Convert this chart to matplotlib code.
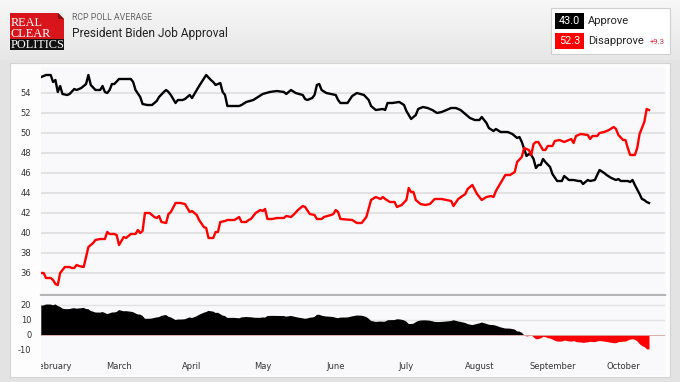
import matplotlib
matplotlib.use('Agg')
import matplotlib.pyplot as plt
import matplotlib.dates as mdates
from matplotlib.patches import Rectangle, Polygon
import numpy as np
import pandas as pd

# RCP average, 2021
approve_dates = ['01-27', '01-29', '01-31', '02-01', '02-02', '02-03', '02-04', '02-05', '02-07', '02-08',
                 '02-10', '02-11', '02-13', '02-15', '02-16', '02-17', '02-19', '02-21', '02-22', '02-23',
                 '02-24', '02-25', '02-26', '02-27', '03-01', '03-06', '03-07', '03-08', '03-10', '03-11',
                 '03-13', '03-15', '03-17', '03-18', '03-20', '03-21', '03-22', '03-23', '03-24', '03-25',
                 '03-26', '03-28', '03-29', '03-31', '04-01', '04-02', '04-04', '04-07', '04-09', '04-10',
                 '04-11', '04-13', '04-14', '04-15', '04-16', '04-19', '04-21', '04-22', '04-24', '04-27',
                 '04-29', '05-01', '05-04', '05-07', '05-10', '05-11', '05-13', '05-15', '05-18', '05-19',
                 '05-20', '05-22', '05-23', '05-24', '05-25', '05-26', '05-28', '05-30', '06-01', '06-02',
                 '06-03', '06-06', '06-08', '06-10', '06-13', '06-15', '06-16', '06-18', '06-21', '06-22',
                 '06-23', '06-25', '06-28', '06-30', '07-01', '07-03', '07-05', '07-06', '07-08', '07-10',
                 '07-12', '07-14', '07-16', '07-18', '07-20', '07-22', '07-24', '07-26', '07-28', '07-30',
                 '08-01', '08-02', '08-04', '08-05', '08-07', '08-08', '08-10', '08-13', '08-15', '08-17',
                 '08-18', '08-19', '08-20', '08-21', '08-22', '08-23', '08-24', '08-25', '08-26', '08-27',
                 '08-28', '08-29', '08-31', '09-01', '09-03', '09-05', '09-06', '09-08', '09-10', '09-12',
                 '09-13', '09-14', '09-16', '09-17', '09-19', '09-20', '09-21', '09-23', '09-24', '09-26',
                 '09-28', '09-29', '09-30', '10-03', '10-04', '10-05', '10-06', '10-08', '10-09', '10-10',
                 '10-11', '10-12']
approve = [55.6, 55.8, 55.8, 55.1, 55.3, 54.1, 54.7, 53.9, 53.8, 53.9,
           54.4, 54.3, 54.5, 54.9, 55.8, 54.8, 54.3, 54.3, 54.7, 54.1,
           54.0, 54.3, 54.9, 54.9, 55.4, 55.4, 55.1, 54.3, 53.6, 52.9,
           52.8, 52.8, 53.2, 53.6, 54.1, 54.3, 54.1, 53.8, 53.4, 53.0,
           53.3, 53.3, 53.4, 53.8, 53.5, 53.9, 54.7, 55.8, 55.3, 55.1,
           54.8, 55.0, 54.1, 53.8, 52.7, 52.7, 52.7, 52.8, 53.1, 53.3,
           53.6, 53.9, 54.1, 54.2, 54.1, 53.9, 54.3, 54.0, 53.8, 53.4,
           53.3, 53.5, 53.8, 54.8, 54.9, 54.3, 54.0, 53.9, 53.8, 53.3,
           53.0, 53.0, 53.7, 54.0, 53.8, 53.3, 52.7, 52.3, 52.4, 52.3,
           53.0, 53.0, 53.1, 52.8, 52.2, 51.4, 51.8, 52.4, 52.6, 52.5,
           52.3, 52.0, 52.1, 52.3, 52.5, 52.5, 52.3, 51.9, 51.5, 51.3,
           51.3, 51.6, 51.0, 50.5, 50.2, 50.4, 50.1, 50.1, 49.9, 49.5,
           49.6, 49.1, 48.4, 47.7, 47.9, 47.8, 47.4, 46.5, 46.8, 46.8,
           47.4, 47.1, 46.6, 45.9, 45.2, 45.2, 45.7, 45.3, 45.3, 45.2,
           45.2, 44.9, 45.3, 45.2, 45.3, 45.8, 46.3, 46.0, 45.8, 45.5,
           45.3, 45.4, 45.2, 45.2, 45.1, 45.3, 44.8, 43.9, 43.4, 43.3,
           43.1, 43.0]

disapprove_dates = ['01-27', '01-28', '01-29', '01-31', '02-01', '02-02', '02-03', '02-04', '02-05', '02-06',
                    '02-08', '02-09', '02-10', '02-11', '02-12', '02-14', '02-15', '02-16', '02-18', '02-19',
                    '02-21', '02-23', '02-24', '02-25', '02-27', '02-28', '03-01', '03-03', '03-04', '03-06',
                    '03-08', '03-09', '03-10', '03-11', '03-12', '03-14', '03-16', '03-17', '03-18', '03-19',
                    '03-21', '03-22', '03-23', '03-25', '03-27', '03-29', '03-30', '03-31', '04-01', '04-03',
                    '04-04', '04-06', '04-07', '04-08', '04-10', '04-11', '04-12', '04-13', '04-15', '04-16',
                    '04-18', '04-19', '04-21', '04-22', '04-24', '04-25', '04-26', '04-28', '04-30', '05-01',
                    '05-02', '05-03', '05-05', '05-07', '05-10', '05-11', '05-13', '05-14', '05-16', '05-18',
                    '05-19', '05-21', '05-23', '05-24', '05-26', '05-27', '05-30', '05-31', '06-01', '06-02',
                    '06-03', '06-08', '06-10', '06-12', '06-14', '06-16', '06-18', '06-20', '06-21', '06-22',
                    '06-24', '06-26', '06-27', '06-29', '07-01', '07-02', '07-03', '07-04', '07-05', '07-07',
                    '07-09', '07-11', '07-13', '07-16', '07-18', '07-20', '07-21', '07-23', '07-26', '07-27',
                    '07-29', '07-31', '08-02', '08-04', '08-06', '08-07', '08-08', '08-11', '08-12', '08-14',
                    '08-16', '08-17', '08-19', '08-20', '08-22', '08-23', '08-24', '08-25', '08-26', '08-28',
                    '08-29', '08-30', '09-01', '09-02', '09-04', '09-06', '09-07', '09-09', '09-10', '09-11',
                    '09-13', '09-16', '09-17', '09-18', '09-20', '09-21', '09-23', '09-25', '09-27', '09-28',
                    '09-29', '10-01', '10-02', '10-03', '10-04', '10-06', '10-07', '10-08', '10-10', '10-11',
                    '10-12']
disapprove = [36.0, 36.0, 35.5, 35.5, 35.3, 34.9, 34.8, 36.0, 36.3, 36.6,
              36.6, 36.5, 36.5, 36.8, 36.7, 36.6, 37.6, 38.6, 39.0, 39.3,
              39.4, 39.4, 40.1, 39.9, 39.9, 39.8, 38.8, 39.6, 39.5, 39.9,
              39.9, 40.3, 40.0, 40.2, 42.0, 42.0, 41.6, 41.5, 41.7, 41.1,
              41.0, 41.9, 42.1, 43.0, 43.0, 42.9, 42.5, 42.1, 42.2, 41.8,
              41.3, 40.6, 40.5, 39.5, 39.5, 40.1, 40.1, 41.1, 41.2, 41.3,
              41.3, 41.3, 41.6, 41.1, 41.1, 41.3, 41.4, 42.0, 42.3, 42.2,
              42.4, 41.4, 41.4, 41.5, 41.5, 41.7, 41.6, 41.8, 42.3, 42.7,
              42.6, 41.9, 41.8, 41.4, 41.4, 41.6, 41.8, 41.9, 42.3, 42.1,
              41.4, 41.3, 41.0, 41.0, 41.6, 43.3, 43.6, 43.4, 43.6, 43.4,
              43.1, 43.1, 42.6, 42.8, 43.3, 44.5, 44.1, 44.1, 43.3, 42.9,
              42.8, 42.9, 43.4, 43.4, 43.3, 43.2, 42.7, 43.4, 43.9, 44.4,
              44.8, 43.9, 43.3, 43.6, 43.7, 43.6, 44.2, 45.4, 45.8, 45.8,
              46.1, 47.1, 47.6, 48.5, 48.3, 47.8, 48.9, 49.1, 49.1, 48.3,
              48.3, 48.7, 48.7, 49.2, 49.3, 49.1, 49.2, 49.4, 49.0, 49.7,
              49.9, 49.8, 49.4, 49.7, 49.7, 50.0, 50.1, 50.3, 50.6, 50.4,
              49.8, 49.3, 49.3, 48.5, 47.8, 47.8, 48.5, 49.9, 51.1, 52.4,
              52.3]

month_ticks = ['02-01', '03-01', '04-01', '05-01', '06-01', '07-01', '08-01', '09-01', '10-01']
month_labels = ['February', 'March', 'April', 'May', 'June', 'July', 'August', 'September', 'October']
main_ticks = [36, 38, 40, 42, 44, 46, 48, 50, 52, 54]
spread_ticks = [20, 10, 0, -10]

W, H = 680, 382


def box(x0, y0, x1, y1):
    # pixel box (top-left origin) -> figure fraction rect
    return [x0 / W, 1 - y1 / H, (x1 - x0) / W, (y1 - y0) / H]


def to_dates(lst):
    return pd.to_datetime(['2021-' + s for s in lst])


fig = plt.figure(figsize=(6.8, 3.82), dpi=100, facecolor='#e3e3e3')

# header gradient
hax = fig.add_axes(box(0, 0, 680, 60))
grad = np.linspace(0, 1, 60).reshape(-1, 1)
hax.imshow(grad, aspect='auto', cmap=matplotlib.colors.LinearSegmentedColormap.from_list('g', ['#f7f7f7', '#e7e7e7']),
           extent=[0, 680, 60, 0])
hax.set_xlim(0, 680)
hax.set_ylim(60, 0)
hax.axis('off')

# logo (one text block so the three lines stack tightly)
hax.add_patch(Rectangle((10, 13), 54, 26, color='#d9151c', lw=0))
hax.add_patch(Rectangle((10, 39), 54, 11, color='#111111', lw=0))
hax.add_patch(Polygon([[58, 13], [64, 13], [64, 19]], closed=True, color='#eeeeee', lw=0))
hax.add_patch(Polygon([[58, 13], [64, 19], [58, 19]], closed=True, color='#8a0a0e', lw=0))
hax.text(10.8, 33.6, 'REAL\nCLEAR\nPOLITICS', color='white', fontsize=8.8, family='Liberation Serif',
         va='center', ha='left', linespacing=0.9)

hax.text(72, 18, 'RCP POLL AVERAGE', color='#666666', fontsize=6.3, family='Roboto', va='center')
hax.text(72, 33, 'President Biden Job Approval', color='#222222', fontsize=8.6, family='Roboto', va='center')

# legend box
hax.add_patch(Rectangle((551, 8), 119, 46, facecolor='white', edgecolor='#cfcfcf', lw=0.8))
hax.add_patch(Rectangle((555, 13), 29, 16, color='black', lw=0))
hax.add_patch(Rectangle((555, 33), 29, 16, color='#ff0000', lw=0))
hax.text(569.5, 21.5, '%.1f' % approve[-1], color='white', fontsize=7.8, family='Roboto', ha='center', va='center')
hax.text(569.5, 41.5, '%.1f' % disapprove[-1], color='white', fontsize=7.8, family='Roboto', ha='center', va='center')
hax.text(588, 21.5, 'Approve', color='#222222', fontsize=8, family='Roboto', va='center')
hax.text(588, 41.5, 'Disapprove', color='#222222', fontsize=8, family='Roboto', va='center')
hax.text(650, 42.5, '+%.1f' % (disapprove[-1] - approve[-1]), color='#e8283a', fontsize=5.5,
         family='Roboto', va='center')

# chart panel
pax = fig.add_axes(box(10, 63, 670, 377))
pax.set_facecolor('#fdfdfd')
pax.set_xticks([])
pax.set_yticks([])
for s in pax.spines.values():
    s.set_color('#d4d4d4')
    s.set_linewidth(0.8)

ad = to_dates(approve_dates)
dd = to_dates(disapprove_dates)
x0 = pd.Timestamp('2021-01-26 21:00')
x1 = pd.Timestamp('2021-10-18 19:00')

ax = fig.add_axes(box(41, 67, 665, 295))
ax.set_facecolor('#f9f9fb')
for y in main_ticks:
    ax.axhline(y, color='#dedede', lw=1.2, zorder=1)
ax.plot(ad, approve, color='black', lw=1.7, zorder=3)
ax.plot(dd, disapprove, color='#ff0000', lw=1.7, zorder=3)
ax.set_xlim(x0, x1)
ax.set_ylim(33.8, 56.6)
ax.set_yticks(main_ticks)
ax.set_yticklabels([str(t) for t in main_ticks], fontsize=6, color='#333333')
ax.tick_params(axis='y', length=0, pad=7)
ax.set_xticks([])
for k in ['top', 'left', 'right']:
    ax.spines[k].set_visible(False)
ax.spines['bottom'].set_color('#b5b5b5')
ax.spines['bottom'].set_linewidth(1.6)

# spread panel
bx = fig.add_axes(box(41, 296, 665, 375))
bx.set_facecolor('#f9f9fb')
alld = np.union1d(mdates.date2num(ad), mdates.date2num(dd))
a_i = np.interp(alld, mdates.date2num(ad), approve)
d_i = np.interp(alld, mdates.date2num(dd), disapprove)
spread = a_i - d_i
bx.axhline(20, color='#e2e2e2', lw=1.0, zorder=1)
bx.axhline(10, color='#e2e2e2', lw=1.0, zorder=1)
bx.fill_between(alld, spread, 0, where=spread >= 0, interpolate=True, color='black', lw=0, zorder=2)
bx.fill_between(alld, spread, 0, where=spread <= 0, interpolate=True, color='#ff0000', lw=0, zorder=2)
bx.axhline(0, color='#d8a0a0', lw=0.6, zorder=3)
bx.set_xlim(mdates.date2num(x0), mdates.date2num(x1))
bx.set_ylim(-26.7, 26.0)
bx.set_yticks(spread_ticks)
bx.set_yticklabels([str(t) for t in spread_ticks], fontsize=6, color='#333333')
bx.tick_params(axis='y', length=0, pad=7)
bx.set_xticks([])
for s in bx.spines.values():
    s.set_visible(False)
for m, lab in zip(to_dates(month_ticks), month_labels):
    bx.text(mdates.date2num(m), -20.7, lab, fontsize=6, color='#333333', ha='center', va='center',
            clip_on=True)

fig.savefig('out.png', dpi=100, facecolor=fig.get_facecolor())
